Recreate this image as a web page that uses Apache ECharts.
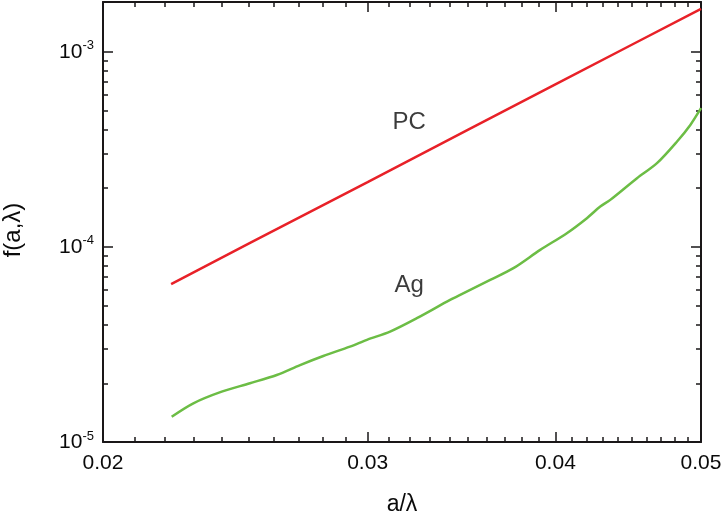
<!DOCTYPE html>
<html>
<head>
<meta charset="utf-8">
<script src="https://cdn.jsdelivr.net/npm/echarts@6/dist/echarts.min.js"></script>
<style>
  html, body { margin: 0; padding: 0; background: #fff; }
  #chart { width: 722px; height: 511px; }
</style>
</head>
<body>
<div id="chart"></div>
<script>
// ---- data ----
const pcX = [0.0222, 0.025, 0.03, 0.035, 0.04, 0.045, 0.05];
const pcY = [6.45e-5, 1.04e-4, 2.15e-4, 3.99e-4, 6.81e-4, 1.09e-3, 1.66e-3];

const agX = [0.02222, 0.02297, 0.02399, 0.02505, 0.0261, 0.02705, 0.02803, 0.0292, 0.02997, 0.03105,
             0.03235, 0.03404, 0.03457, 0.0362, 0.03751, 0.03908, 0.04071, 0.04198, 0.04285, 0.04351,
             0.04533, 0.04674, 0.0482, 0.04919, 0.05];
const agY = [1.348e-5, 1.579e-5, 1.811e-5, 2.0e-5, 2.206e-5, 2.48e-5, 2.76e-5, 3.08e-5, 3.34e-5, 3.68e-5,
             4.31e-5, 5.35e-5, 5.67e-5, 6.77e-5, 7.78e-5, 9.65e-5, 1.176e-4, 1.404e-4, 1.61e-4, 1.742e-4,
             2.25e-4, 2.687e-4, 3.47e-4, 4.22e-4, 5.14e-4];

const noteText = ['PC', 'Ag'];
const noteX = [0.03197, 0.03197];
const noteY = [4.33e-4, 6.38e-5];

const xMajorTicks = [0.02, 0.03, 0.04, 0.05];
const xMinorTicks = [0.021, 0.022, 0.023, 0.024, 0.025, 0.026, 0.027, 0.028, 0.029,
                     0.031, 0.032, 0.033, 0.034, 0.035, 0.036, 0.037, 0.038, 0.039,
                     0.041, 0.042, 0.043, 0.044, 0.045, 0.046, 0.047, 0.048, 0.049];
const yMajorTicks = [1e-5, 1e-4, 1e-3];
const yMinorTicks = [2e-5, 3e-5, 4e-5, 5e-5, 6e-5, 7e-5, 8e-5, 9e-5,
                     2e-4, 3e-4, 4e-4, 5e-4, 6e-4, 7e-4, 8e-4, 9e-4];
const xMin = 0.02, xMax = 0.05, yMin = 1e-5, yMax = 1.8e-3;

// ---- chart ----
const INK = '#1a1718';
const TXT = '#0a0a0a';
const FONT = 'Liberation Sans, Arial, sans-serif';

function xAxisDef(pos, major, showLine, showLabel) {
  return {
    type: 'log', position: pos, min: xMin, max: xMax,
    axisLine: { show: showLine, lineStyle: { color: INK, width: 2 } },
    axisTick: { show: true, inside: true, length: major ? 10 : 5,
                customValues: major ? xMajorTicks : xMinorTicks,
                lineStyle: { color: INK, width: 1.5 } },
    axisLabel: { show: showLabel, customValues: xMajorTicks,
                 formatter: v => v.toFixed(2),
                 fontSize: 21, fontFamily: FONT, color: TXT, margin: 11 },
    splitLine: { show: false }, minorTick: { show: false }, minorSplitLine: { show: false }
  };
}
function yAxisDef(pos, major, showLine, showLabel) {
  return {
    type: 'log', position: pos, min: yMin, max: yMax,
    axisLine: { show: showLine, lineStyle: { color: INK, width: 2 } },
    axisTick: { show: true, inside: true, length: major ? 10 : 5,
                customValues: major ? yMajorTicks : yMinorTicks,
                lineStyle: { color: INK, width: 1.5 } },
    axisLabel: { show: showLabel, customValues: yMajorTicks,
                 formatter: v => '{b|10}{s|' + Math.round(Math.log10(v)) + '}',
                 margin: 9, color: TXT,
                 rich: {
                   b: { fontSize: 21, fontFamily: FONT, color: TXT, lineHeight: 25 },
                   s: { fontSize: 13, fontFamily: FONT, color: TXT, lineHeight: 14, verticalAlign: 'top' }
                 } },
    splitLine: { show: false }, minorTick: { show: false }, minorSplitLine: { show: false }
  };
}

const xAxes = [
  xAxisDef('bottom', true, true, true),
  xAxisDef('bottom', false, false, false),
  xAxisDef('top', true, true, false),
  xAxisDef('top', false, false, false)
];
Object.assign(xAxes[0], {
  name: 'a/λ', nameLocation: 'middle', nameGap: 51,
  nameTextStyle: { fontSize: 23, fontFamily: FONT, color: TXT }
});
const yAxes = [
  yAxisDef('left', true, true, true),
  yAxisDef('left', false, false, false),
  yAxisDef('right', true, true, false),
  yAxisDef('right', false, false, false)
];
Object.assign(yAxes[0], {
  name: 'f(a,λ)', nameLocation: 'middle', nameGap: 78,
  nameTextStyle: { fontSize: 24, fontFamily: FONT, color: TXT, padding: [0, 16, 0, 0] }
});

const chart = echarts.init(document.getElementById('chart'), null, { renderer: 'canvas' });
chart.setOption({
  animation: false,
  backgroundColor: '#ffffff',
  grid: { left: 103, right: 21, top: 2, bottom: 69, containLabel: false, outerBoundsMode: 'none' },
  xAxis: xAxes,
  yAxis: yAxes,
  series: [
    {
      name: 'PC', type: 'line', xAxisIndex: 0, yAxisIndex: 0,
      data: pcX.map((x, i) => [x, pcY[i]]),
      showSymbol: false, symbol: 'none',
      lineStyle: { color: '#e82128', width: 2.5 }
    },
    {
      name: 'Ag', type: 'line', xAxisIndex: 0, yAxisIndex: 0,
      data: agX.map((x, i) => [x, agY[i]]),
      showSymbol: false, symbol: 'none', smooth: 0.3,
      lineStyle: { color: '#6cbd45', width: 2.5 }
    },
    {
      name: 'notes', type: 'scatter', xAxisIndex: 0, yAxisIndex: 0,
      symbolSize: 0, silent: true,
      data: noteX.map((x, i) => ({ name: noteText[i], value: [x, noteY[i]] })),
      label: { show: true, position: 'inside', formatter: p => p.name,
               fontSize: 24, fontFamily: FONT, color: TXT }
    }
  ]
});
</script>
</body>
</html>
